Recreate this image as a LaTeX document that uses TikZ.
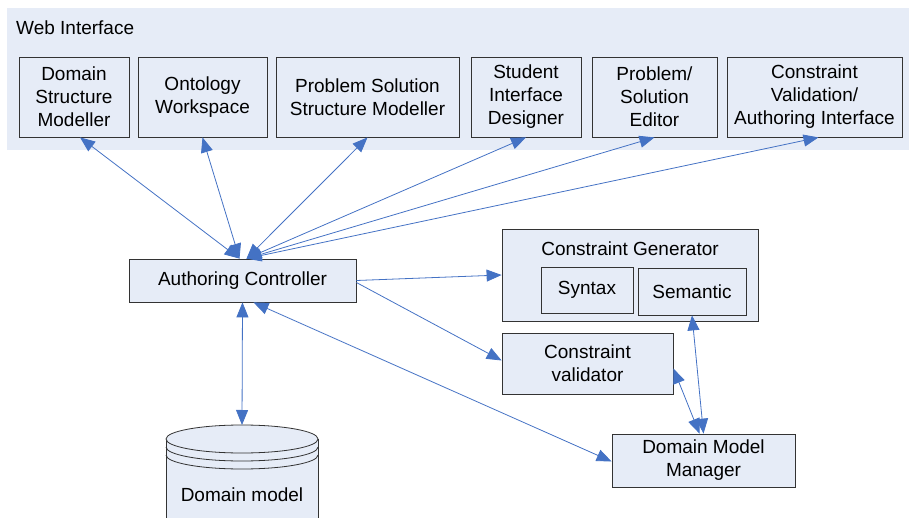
\documentclass[tikz,border=0pt]{standalone}
\usepackage{fontspec}
\setmainfont{Liberation Sans}
\usetikzlibrary{arrows.meta}
\definecolor{boxfill}{HTML}{E6ECF7}
\definecolor{arrowblue}{HTML}{4472C4}
\begin{document}
\begin{tikzpicture}[x=1pt,y=-1pt,
  lbl/.style={font=\fontsize{19}{23}\selectfont},
  box/.style={draw=black!80, fill=boxfill, align=center, inner sep=0pt, line width=0.8pt, lbl},
  tipa/.tip={Triangle[length=15pt,width=12pt]},
  link/.style={draw=arrowblue, line width=0.8pt, tipa-tipa},
  one/.style={draw=arrowblue, line width=0.8pt, -tipa}]
\useasboundingbox (0,0) rectangle (909,518);
\clip (0,0) rectangle (909,518);
% web interface background
\fill[boxfill] (7,8) rectangle (909,150);
\node[lbl, anchor=west, inner sep=0pt] (wi) at (16,28) {Web Interface};
% top boxes
\node[box, minimum width=110, minimum height=80] (dsm) at (74,97) {Domain\\Structure\\Modeller};
\node[box, minimum width=129, minimum height=80] (ow) at (202.5,97) {Ontology\\Workspace};
\node[box, minimum width=183, minimum height=80] (pssm) at (367.5,97) {Problem Solution\\Structure Modeller};
\node[box, minimum width=110, minimum height=80] (sid) at (526,97) {Student\\Interface\\Designer};
\node[box, minimum width=125, minimum height=80] (pse) at (654.5,97) {Problem/\\Solution\\Editor};
\node[box, minimum width=175, minimum height=80] (cvai) at (814.5,97) {Constraint\\Validation/\\Authoring Interface};
% middle
\node[box, minimum width=227, minimum height=43] (ac) at (242.5,280.5) {Authoring Controller};
\node[box, minimum width=256, minimum height=92] (cg) at (630,275) {};
\node[lbl, inner sep=0pt] (cgl) at (630,249) {Constraint Generator};
\node[box, minimum width=92, minimum height=46] (syn) at (587,290) {Syntax};
\node[box, minimum width=108, minimum height=47] (sem) at (692,291.5) {Semantic};
\node[box, minimum width=171, minimum height=61] (cv) at (587.5,363.5) {Constraint\\validator};
\node[box, minimum width=183, minimum height=53] (dmm) at (703.5,460.5) {Domain Model\\Manager};
% database cylinder
\fill[boxfill] (166,439) rectangle (318,530);
\draw[black!80, line width=0.8pt] (166,439) -- (166,530) (318,439) -- (318,530);
\filldraw[fill=boxfill, draw=black!80, line width=0.8pt] (242,439) ellipse [x radius=76, y radius=14];
\draw[black!80, line width=0.8pt] (166,447) arc[start angle=180, end angle=0, x radius=76, y radius=14];
\draw[black!80, line width=0.8pt] (166,455) arc[start angle=180, end angle=0, x radius=76, y radius=14];
\coordinate (dmtop) at (242,425);
\node[lbl, inner sep=0pt] (dml) at (242,495) {Domain model};
% connectors
\draw[link] ([xshift=-3pt]ac.north) -- ([xshift=6pt]dsm.south);
\draw[link] ([xshift=-3pt]ac.north) -- (ow.south);
\draw[link] ([xshift=4pt]ac.north) -- (pssm.south);
\draw[link] ([xshift=4pt]ac.north) -- (sid.south);
\draw[link] ([xshift=4pt]ac.north) -- (pse.south);
\draw[link] ([xshift=4pt]ac.north) -- ([xshift=4pt]cvai.south);
\draw[one] (ac.east) -- (cg.west);
\draw[one] ([yshift=-2pt]ac.east) -- ([yshift=3pt]cv.west);
\draw[link] (ac.south) -- (dmtop);
\draw[link] ([xshift=11pt]ac.south) -- ([yshift=-1pt]dmm.west);
\draw[link] (sem.south) -- (dmm.north);
\draw[link] ([yshift=-5pt]cv.east) -- ([xshift=-4pt]dmm.north);
\end{tikzpicture}
\end{document}
